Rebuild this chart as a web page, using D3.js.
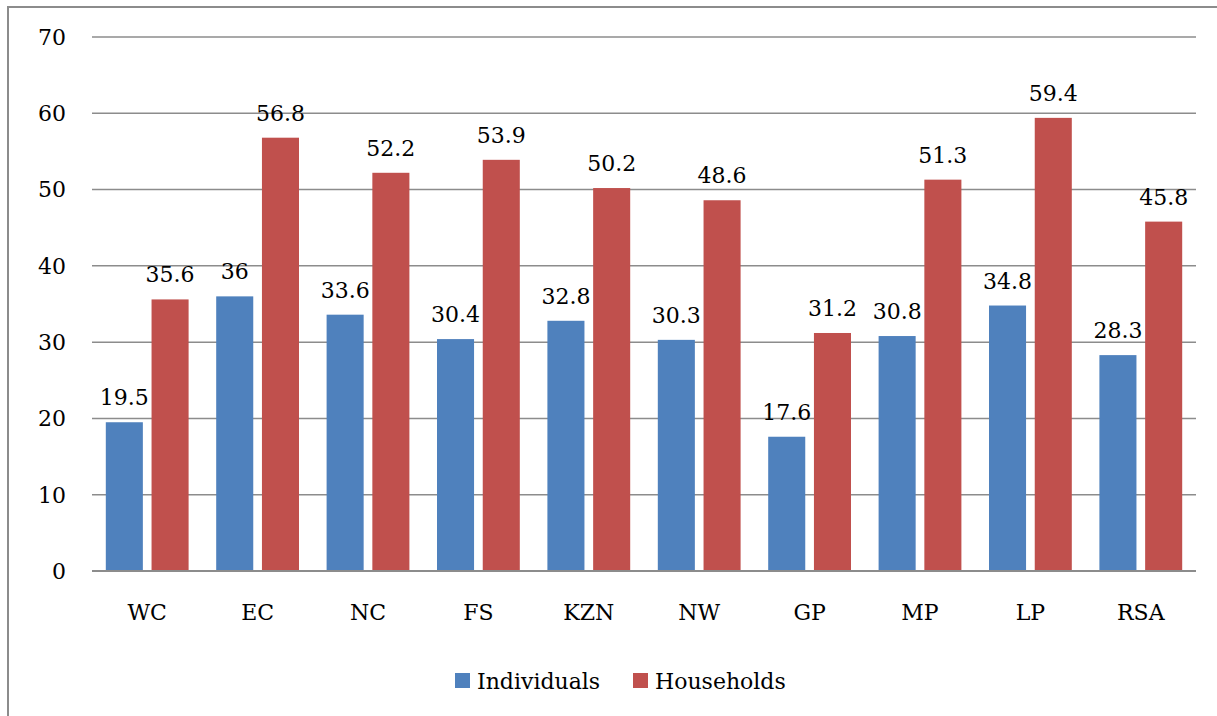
<!DOCTYPE html>
<html>
<head>
<meta charset="utf-8">
<script src="https://cdn.jsdelivr.net/npm/d3@7"></script>
<style>
  html, body { margin: 0; padding: 0; background: #fff; }
  .app { width: 1217px; height: 716px; }
  text { font-family: "DejaVu Serif", serif; fill: #000; }
</style>
</head>
<body>
<div class="app"></div>
<script>
// Data
const categories = ['WC', 'EC', 'NC', 'FS', 'KZN', 'NW', 'GP', 'MP', 'LP', 'RSA'];
const individuals = [19.5, 36, 33.6, 30.4, 32.8, 30.3, 17.6, 30.8, 34.8, 28.3];
const households = [35.6, 56.8, 52.2, 53.9, 50.2, 48.6, 31.2, 51.3, 59.4, 45.8];
const seriesNames = ['Individuals', 'Households'];
const seriesColors = ['#4F81BD', '#C0504D'];
const yTicks = [0, 10, 20, 30, 40, 50, 60, 70];

const rows = categories.map((c, i) => ({ cat: c, values: [individuals[i], households[i]] }));

// Setup
const width = 1217;
const height = 716;
const svg = d3.select('.app')
  .append('svg')
  .attr('width', width)
  .attr('height', height);

// chart frame
svg.append('rect')
  .attr('x', 8)
  .attr('y', 7)
  .attr('width', 1400)
  .attr('height', 900)
  .attr('fill', 'none')
  .attr('stroke', '#8c8c8c')
  .attr('stroke-width', 2);

const plot = { left: 92, right: 1196, top: 37, bottom: 571 };

const x0 = d3.scaleBand()
  .domain(categories)
  .range([plot.left, plot.right])
  .paddingInner(0.25)
  .paddingOuter(0.125);

const x1 = d3.scaleBand()
  .domain([0, 1])
  .range([0, x0.bandwidth()])
  .paddingInner(0.19);

const y = d3.scaleLinear()
  .domain([0, 70])
  .range([plot.bottom, plot.top]);

// gridlines
svg.append('g')
  .selectAll('line')
  .data(yTicks)
  .join('line')
  .attr('x1', plot.left)
  .attr('x2', plot.right)
  .attr('y1', d => y(d))
  .attr('y2', d => y(d))
  .attr('stroke', '#8c8c8c')
  .attr('stroke-width', 1.5);

// y labels
svg.append('g')
  .attr('font-size', 22)
  .attr('text-anchor', 'end')
  .selectAll('text')
  .data(yTicks)
  .join('text')
  .attr('x', 66)
  .attr('y', d => y(d))
  .attr('dy', '0.36em')
  .text(d => d);

// bars
const groups = svg.append('g')
  .selectAll('g')
  .data(rows)
  .join('g')
  .attr('transform', d => `translate(${x0(d.cat)},0)`);

groups.selectAll('rect')
  .data(d => d.values.map((v, i) => ({ v, i })))
  .join('rect')
  .attr('x', d => x1(d.i))
  .attr('y', d => y(d.v))
  .attr('width', x1.bandwidth())
  .attr('height', d => y(0) - y(d.v))
  .attr('fill', d => seriesColors[d.i]);

groups.selectAll('text')
  .data(d => d.values.map((v, i) => ({ v, i })))
  .join('text')
  .attr('font-size', 22)
  .attr('text-anchor', 'middle')
  .attr('x', d => x1(d.i) + x1.bandwidth() / 2)
  .attr('y', d => y(d.v) - 17)
  .text(d => d.v);

// axis baseline
svg.append('line')
  .attr('x1', plot.left)
  .attr('x2', plot.right)
  .attr('y1', y(0))
  .attr('y2', y(0))
  .attr('stroke', '#8c8c8c')
  .attr('stroke-width', 2);

// category labels
svg.append('g')
  .attr('font-size', 22)
  .attr('text-anchor', 'middle')
  .selectAll('text')
  .data(categories)
  .join('text')
  .attr('x', d => x0(d) + x0.bandwidth() / 2)
  .attr('y', 620)
  .text(d => d);

// legend
const legendX = [455, 633];
const legend = svg.append('g')
  .selectAll('g')
  .data(seriesNames)
  .join('g')
  .attr('transform', (d, i) => `translate(${legendX[i]},673)`);

legend.append('rect')
  .attr('width', 15)
  .attr('height', 15)
  .attr('fill', (d, i) => seriesColors[i]);

legend.append('text')
  .attr('x', 22)
  .attr('y', 16)
  .attr('font-size', 22)
  .text(d => d);
</script>
</body>
</html>
